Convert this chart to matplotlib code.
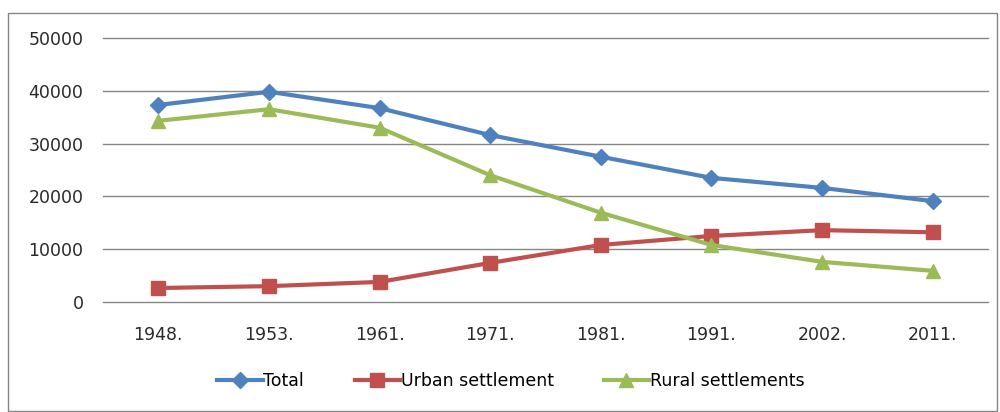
import matplotlib.pyplot as plt
from matplotlib.patches import Rectangle

# ---------------------------------------------------------
# data
# ---------------------------------------------------------
years = ['1948.', '1953.', '1961.', '1971.', '1981.', '1991.', '2002.', '2011.']
total = [37300, 39800, 36700, 31600, 27500, 23500, 21600, 19100]
urban = [2650, 3000, 3800, 7400, 10800, 12500, 13600, 13200]
rural = [34300, 36500, 33000, 24000, 16900, 10800, 7600, 5900]

plt.rcParams['font.family'] = ['DejaVu Sans']

fig = plt.figure(figsize=(10, 4.12), dpi=100)
ax = fig.add_axes([0.103, 0.267, 0.885, 0.641])

x = range(len(years))
ax.plot(x, total, color='#4F81BD', lw=3, marker='D', ms=8, label='Total')
ax.plot(x, urban, color='#C0504D', lw=3, marker='s', ms=10, label='Urban settlement')
ax.plot(x, rural, color='#9BBB59', lw=3, marker='^', ms=10, label='Rural settlements')

ax.set_xlim(-0.5, len(years) - 0.5)
ax.set_ylim(0, 50000)
ax.set_yticks(range(0, 50001, 10000))
ax.set_xticks(list(x))
ax.set_xticklabels(years)
ax.grid(axis='y', color='#868686', lw=1)
for g in ax.get_ygridlines():
    g.set_clip_on(False)
ax.set_axisbelow(True)
for s in ax.spines.values():
    s.set_visible(False)
ax.tick_params(length=0, labelsize=12.5, colors='#2a2a2a')
ax.tick_params(axis='x', pad=17)
ax.tick_params(axis='y', pad=14)

leg = fig.legend(loc='center', bbox_to_anchor=(0.511, 0.075), ncol=3, frameon=False,
                 fontsize=12.5, handlelength=2.6, columnspacing=2.9, handletextpad=0.05)

# outer chart frame
fig.patches.append(Rectangle((0.008, 0.002), 0.989, 0.966, transform=fig.transFigure,
                             fill=False, edgecolor='#868686', lw=1))

fig.savefig('out.png', dpi=100)
